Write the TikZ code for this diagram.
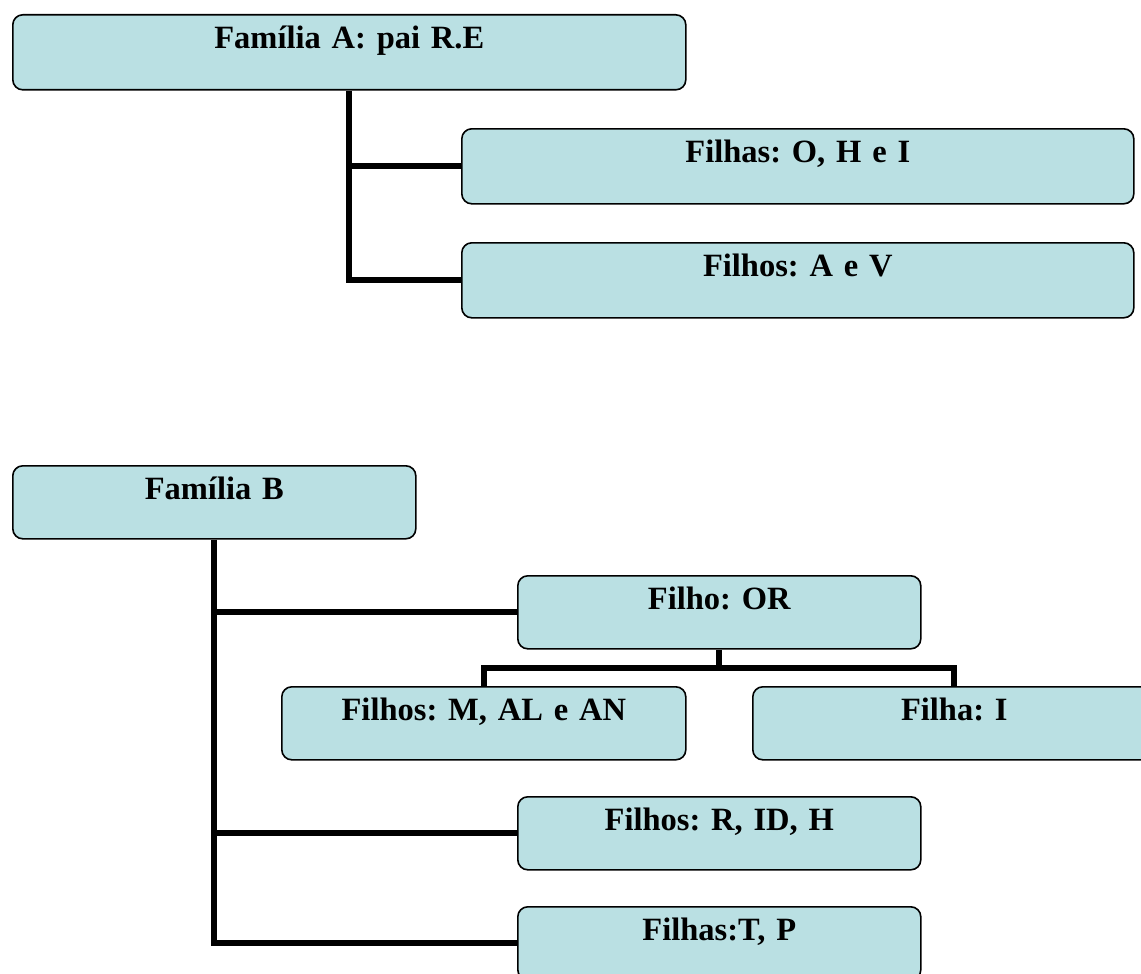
\documentclass[tikz,border=0pt]{standalone}
\usepackage{fontspec}
\setmainfont{Liberation Serif}[WordSpace=0.8]
\usetikzlibrary{backgrounds}
\definecolor{boxblue}{RGB}{186,224,227}
\tikzset{
  famA/.style={draw=black, fill=boxblue, rounded corners=10pt, line width=1.6pt,
    inner sep=0pt, text height=34pt, text depth=41pt, align=center,
    anchor=north west, font=\fontsize{32.5}{38}\selectfont\bfseries\frenchspacing},
  famB/.style={famA, text depth=39pt},
  conn/.style={draw=black, line width=6pt, line join=miter}
}
\begin{document}
\begin{tikzpicture}[x=1pt,y=-1pt]
\useasboundingbox (0,0) rectangle (1141,974);
\clip (0,0) rectangle (1141,974);
% Family A
\node[famA, text width=673pt] (A) at (12,14) {Família A: pai R.E};
\node[famA, text width=672pt] (A1) at (461,128) {Filhas: O, H e I};
\node[famA, text width=672pt] (A2) at (461,242) {Filhos: A e V};
% Family B
\node[famB, text width=403pt] (B) at (12,465) {Família B};
\node[famB, text width=403pt] (OR) at (517,575) {Filho: OR};
\node[famB, text width=404pt] (M) at (281,686) {Filhos: M, AL e AN};
\node[famB, text width=403pt] (I) at (752,686) {Filha: I};
\node[famB, text width=403pt] (R) at (517,796) {Filhos: R, ID, H};
\node[famB, text width=403pt] (T) at (517,906) {Filhas:T, P};
\begin{pgfonlayer}{background}
\draw[conn] (A.south) |- (A2.west);
\draw[conn] (A.south |- A1.west) -- (A1.west);
\draw[conn] (B.south) |- (T.west);
\draw[conn] (B.south |- OR.west) -- (OR.west);
\draw[conn] (B.south |- R.west) -- (R.west);
\draw[conn] (OR.south) -- ++(0,18) coordinate (orj) -| (M.north);
\draw[conn] (orj) -| (I.north);
\end{pgfonlayer}
\end{tikzpicture}
\end{document}
